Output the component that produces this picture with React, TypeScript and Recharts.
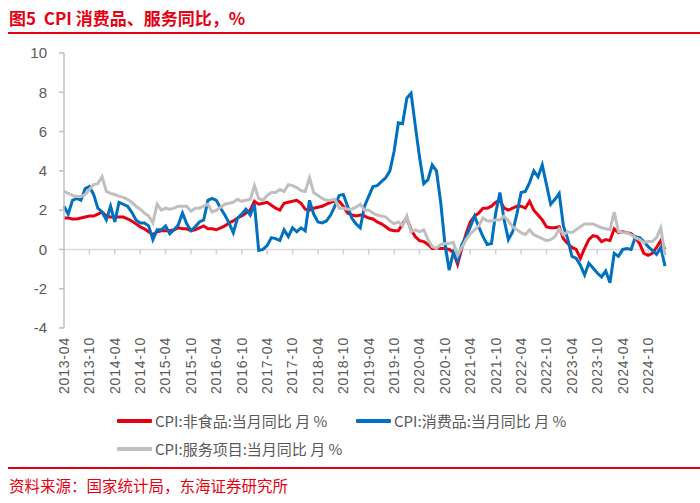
import React from 'react';
import { LineChart, Line, XAxis, YAxis, ReferenceLine } from 'recharts';

// Monthly categories 2013-04 .. 2025-02
const startYear = 2013;
const startMonth = 4;
const monthCount = 143;
const months: string[] = [];
for (let i = 0; i < monthCount; i++) {
  const t = startMonth - 1 + i;
  const y = startYear + Math.floor(t / 12);
  const m = (t % 12) + 1;
  months.push(`${y}-${m < 10 ? '0' + m : m}`);
}

// CPI: 非食品: 当月同比 (%)
const nonFood: number[] = [
  1.6, 1.6, 1.55, 1.55, 1.6, 1.65, 1.7, 1.7, 1.8, // 2013 Apr-Dec
  1.9, 1.7, 1.65, 1.65, 1.65, 1.65, 1.55, 1.45, 1.3, 1.15, 1.05, 0.9, // 2014
  0.75, 0.9, 0.95, 0.95, 0.95, 1.0, 1.1, 1.05, 1.05, 0.95, 1.0, 1.1, // 2015
  1.2, 1.05, 1.05, 1.0, 1.1, 1.2, 1.35, 1.45, 1.6, 1.7, 1.85, 2.0, // 2016
  2.45, 2.3, 2.35, 2.4, 2.25, 2.1, 2.0, 2.35, 2.4, 2.45, 2.5, 2.35, // 2017
  2.05, 2.0, 2.1, 2.15, 2.2, 2.3, 2.4, 2.45, 2.45, 2.2, 1.85, 1.75, // 2018
  1.7, 1.75, 1.7, 1.6, 1.55, 1.4, 1.3, 1.15, 1.0, 0.95, 0.95, 1.3, // 2019
  1.6, 1.0, 0.65, 0.45, 0.4, 0.25, 0.05, 0.05, 0.05, 0.05, 0.0, -0.15, // 2020
  -0.75, 0.05, 0.8, 1.4, 1.7, 1.85, 2.1, 2.1, 2.2, 2.4, 2.5, 2.1, // 2021
  2.0, 2.1, 2.2, 2.2, 2.1, 2.45, 2.0, 1.75, 1.5, 1.15, 1.1, 1.1, // 2022
  1.15, 0.55, 0.3, 0.1, 0.0, -0.45, 0.05, 0.5, 0.7, 0.65, 0.4, 0.5, // 2023
  0.45, 1.05, 0.85, 0.9, 0.85, 0.8, 0.6, 0.3, -0.2, -0.3, -0.2, 0.1, // 2024
  0.45, 0.0, // 2025 Jan-Feb
];

// CPI: 消费品: 当月同比 (%)
const goods: number[] = [
  2.2, 1.8, 2.5, 2.6, 2.5, 3.1, 3.2, 2.8, 2.1, // 2013
  1.9, 1.5, 2.2, 1.4, 2.4, 2.3, 2.2, 1.9, 1.5, 1.35, 1.35, 1.2, // 2014
  0.5, 1.0, 1.0, 1.2, 0.8, 1.0, 1.25, 1.85, 1.3, 0.95, 1.15, 1.4, // 2015
  1.5, 2.5, 2.6, 2.5, 2.1, 1.75, 1.35, 0.85, 1.6, 1.8, 2.05, 1.75, // 2016
  2.3, -0.05, 0.0, 0.2, 0.6, 0.55, 0.45, 1.0, 0.65, 1.1, 0.9, 1.1, // 2017
  0.95, 2.5, 1.8, 1.4, 1.35, 1.45, 1.75, 2.2, 2.75, 2.8, 2.2, 1.6, // 2018
  1.3, 1.1, 2.2, 2.7, 3.2, 3.25, 3.45, 3.65, 4.0, 5.0, 6.45, 6.4, // 2019
  7.7, 7.95, 6.3, 4.7, 3.35, 3.55, 4.3, 4.0, 2.4, 0.3, -1.05, -0.15, // 2020
  -0.6, 0.25, 0.65, 1.15, 1.7, 1.15, 0.65, 0.25, 0.3, 1.85, 2.9, 1.5, // 2021
  0.5, 0.9, 1.8, 2.9, 2.95, 3.4, 4.0, 3.7, 4.3, 3.3, 2.3, 2.55, // 2022
  2.85, 1.2, 0.55, -0.35, -0.45, -0.8, -1.3, -0.7, -0.95, -1.2, -1.4, -1.1, // 2023
  -1.7, -0.2, -0.35, 0.0, 0.05, 0.0, 0.65, 0.6, 0.4, 0.15, -0.05, -0.25, // 2024
  0.1, -0.85, // 2025
];

// CPI: 服务项目: 当月同比 (%)
const services: number[] = [
  2.95, 2.85, 2.75, 2.7, 2.7, 2.8, 3.05, 3.3, 3.35, // 2013
  3.7, 2.95, 2.85, 2.8, 2.7, 2.65, 2.55, 2.4, 2.2, 2.05, 1.85, 1.7, // 2014
  1.35, 2.3, 2.0, 2.1, 2.05, 2.1, 2.2, 2.2, 2.2, 1.95, 2.1, 2.1, // 2015
  2.2, 2.3, 1.9, 2.0, 2.15, 2.3, 2.35, 2.4, 2.55, 2.45, 2.5, 2.55, // 2016
  3.25, 2.6, 2.5, 2.75, 2.9, 2.9, 3.05, 2.95, 3.3, 3.25, 3.15, 3.0, // 2017
  2.95, 3.65, 2.9, 2.75, 2.6, 2.5, 2.5, 2.55, 2.1, 2.1, 2.05, 2.05, // 2018
  2.15, 2.3, 2.0, 2.0, 1.85, 1.75, 1.7, 1.65, 1.45, 1.3, 1.4, 1.2, // 2019
  1.7, 0.9, 1.0, 0.9, 1.0, 0.5, 0.15, 0.05, 0.25, 0.3, 0.3, 0.35, // 2020
  -0.3, 0.1, 0.5, 0.8, 1.0, 1.2, 1.6, 1.45, 1.45, 1.5, 1.5, 1.7, // 2021
  1.45, 1.15, 1.0, 0.85, 0.75, 1.0, 0.75, 0.65, 0.55, 0.45, 0.5, 0.65, // 2022
  1.05, 0.75, 0.9, 0.85, 1.0, 1.15, 1.3, 1.3, 1.3, 1.2, 1.1, 1.05, // 2023
  1.0, 1.9, 0.9, 0.85, 0.85, 0.75, 0.6, 0.5, 0.35, 0.4, 0.4, 0.6, // 2024
  1.1, -0.3, // 2025
];

const yTicks = [-4, -2, 0, 2, 4, 6, 8, 10];
const tickEvery = 6;

const seriesNames = {
  nonFood: 'CPI:非食品:当月同比 月 %',
  goods: 'CPI:消费品:当月同比 月 %',
  services: 'CPI:服务项目:当月同比 月 %',
};

const RED = '#E60012';
const BLUE = '#0070C0';
const GRAY = '#BFBFBF';
const AXIS = '#BFBFBF';
const TEXT = '#595959';

const data = months.map((month, i) => ({
  month,
  nonFood: nonFood[i],
  goods: goods[i],
  services: services[i],
}));

const tickMonths = months.filter((_, i) => i > 0 && i % tickEvery === 0);

const XTick = (props: any) => {
  const { x, y, payload } = props;
  return (
    <text
      x={x}
      y={y}
      transform={`rotate(-90, ${x}, ${y})`}
      textAnchor="end"
      dy="0.35em"
      fill={TEXT}
      fontSize={14}
      fontFamily="'Liberation Sans', Arial, sans-serif"
      letterSpacing={0.8}
    >
      {payload.value}
    </text>
  );
};

const LegendItem = ({ color, label, left, top }: { color: string; label: string; left: number; top: number }) => (
  <div style={{ position: 'absolute', left, top, display: 'flex', alignItems: 'center', height: 20 }}>
    <div style={{ width: 35, height: 4, background: color, borderRadius: 1 }} />
    <span style={{ marginLeft: 3, fontSize: 15, color: TEXT, whiteSpace: 'nowrap', lineHeight: '20px' }}>{label}</span>
  </div>
);

export default function App() {
  return (
    <div
      style={{
        position: 'absolute',
        left: 0,
        top: 0,
        width: 700,
        height: 503,
        background: '#fff',
        overflow: 'hidden',
        fontFamily: "'Noto Sans CJK SC', 'Liberation Sans', sans-serif",
      }}
    >
      <div
        style={{
          position: 'absolute',
          left: 9,
          top: 8,
          fontSize: 17,
          lineHeight: '20px',
          fontWeight: 700,
          color: RED,
          whiteSpace: 'pre',
        }}
      >
        {'图5  CPI 消费品、服务同比，%'}
      </div>
      <div style={{ position: 'absolute', left: 8, top: 32, width: 692, height: 2, background: RED }} />

      <div style={{ position: 'absolute', left: 0, top: 0 }}>
        <LineChart width={700} height={400} data={data} margin={{ top: 53, right: 35, left: 0, bottom: 0 }}>
          <XAxis
            dataKey="month"
            interval={tickEvery - 1}
            axisLine={false}
            tickLine={false}
            tickSize={6}
            tickMargin={3}
            height={72}
            tick={<XTick />}
          />
          <YAxis
            type="number"
            domain={[-4, 10]}
            ticks={yTicks}
            interval={0}
            width={64}
            axisLine={{ stroke: AXIS, strokeWidth: 1.5 }}
            tickLine={{ stroke: AXIS, strokeWidth: 1.5 }}
            tickSize={5}
            tickMargin={12}
            tick={{ fill: TEXT, fontSize: 15, fontFamily: "'Liberation Sans', Arial, sans-serif" }}
          />
          <ReferenceLine y={0} stroke="#D9D9D9" strokeWidth={1.5} />
          {tickMonths.map((m) => (
            <ReferenceLine
              key={m}
              segment={[
                { x: m, y: 0 },
                { x: m, y: -0.26 },
              ]}
              stroke="#D0D0D0"
              strokeWidth={1.5}
            />
          ))}
          <Line
            type="linear"
            dataKey="nonFood"
            name={seriesNames.nonFood}
            stroke={RED}
            strokeWidth={3}
            dot={false}
            isAnimationActive={false}
          />
          <Line
            type="linear"
            dataKey="goods"
            name={seriesNames.goods}
            stroke={BLUE}
            strokeWidth={3}
            dot={false}
            isAnimationActive={false}
          />
          <Line
            type="linear"
            dataKey="services"
            name={seriesNames.services}
            stroke={GRAY}
            strokeWidth={3}
            dot={false}
            isAnimationActive={false}
          />
        </LineChart>
      </div>

      <LegendItem color={RED} label={seriesNames.nonFood} left={117} top={411} />
      <LegendItem color={BLUE} label={seriesNames.goods} left={356} top={411} />
      <LegendItem color={GRAY} label={seriesNames.services} left={117} top={439} />

      <div style={{ position: 'absolute', left: 8, top: 467, width: 692, height: 2, background: RED }} />
      <div
        style={{
          position: 'absolute',
          left: 9,
          top: 475,
          fontSize: 15.5,
          lineHeight: '20px',
          color: RED,
          whiteSpace: 'nowrap',
        }}
      >
        资料来源：国家统计局，东海证券研究所
      </div>
    </div>
  );
}
